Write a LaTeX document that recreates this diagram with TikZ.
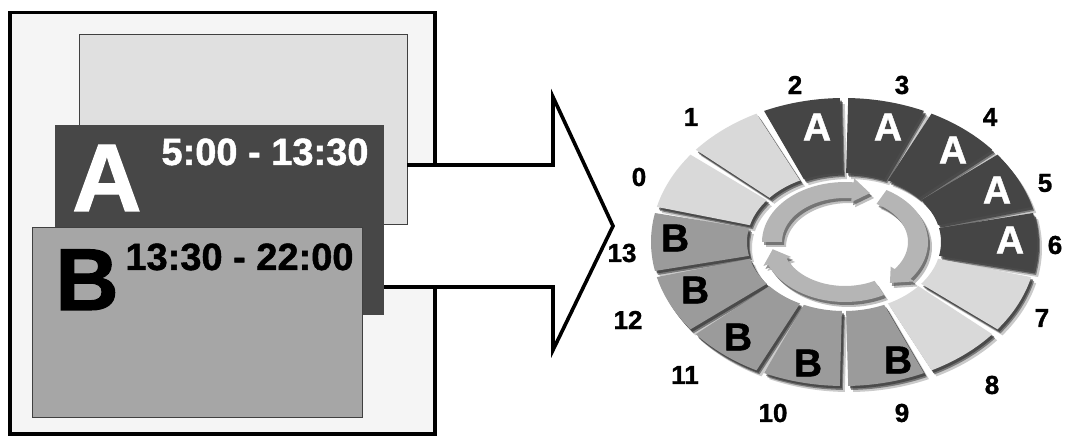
\documentclass[tikz,border=0pt]{standalone}
\usepackage{fontspec}
\setmainfont{Liberation Sans}[BoldFeatures={FakeBold=1.2}]
\definecolor{frameg}{HTML}{F5F5F5}
\definecolor{boxlight}{HTML}{E0E0E0}
\definecolor{boxdark}{HTML}{474747}
\definecolor{boxmid}{HTML}{A6A6A6}
\definecolor{segA}{HTML}{454545}
\definecolor{segB}{HTML}{9B9B9B}
\definecolor{segL}{HTML}{D9D9D9}
\definecolor{arrg}{HTML}{B5B5B5}
\definecolor{shad}{HTML}{2A2A2A}
\begin{document}
\begin{tikzpicture}[x=1pt,y=1pt,
  heavy/.style={line width=3.6pt,line join=miter},
  panel/.style={line width=0.9pt,draw=black!75},
  num/.style={font=\bfseries\fontsize{26}{26}\selectfont,inner sep=0pt},
  seglet/.style={font=\bfseries\fontsize{39}{39}\selectfont,inner sep=0pt},
  timetxt/.style={font=\bfseries\fontsize{38}{38}\selectfont,inner sep=0pt,anchor=base},
  biglet/.style={font=\bfseries\fontsize{96}{96}\selectfont,inner sep=0pt,anchor=base west}]
\useasboundingbox (0,0) rectangle (1072,437);
% ---------------- left part ----------------
\fill[frameg] (10,3) rectangle (435,424.5);
\fill[white] (384,272) -- (553,272) -- (553,340) -- (613,211) -- (553,87) -- (553,150) -- (384,150) -- cycle;
\filldraw[boxlight,panel] (79,213) rectangle (407,403);
\fill[boxdark] (55,122) rectangle (384,312);
\filldraw[boxmid,panel] (32,20) rectangle (362,210);
\draw[heavy] (435,272) -- (435,424.5) -- (10,424.5) -- (10,3) -- (435,3) -- (435,150);
\draw[heavy] (407,272) -- (553,272) -- (553,340) -- (613,211) -- (553,87) -- (553,150) -- (384,150);
\node[biglet,text=white] (bigA) at (72,226) {A};
\node[timetxt,text=white] (timeA) at (265,272) {5:00 - 13:30};
\node[biglet,text=black,font=\bfseries\fontsize{88}{88}\selectfont] (bigB) at (55,127) {B};
\node[timetxt,text=black] (timeB) at (239.5,167) {13:30 - 22:00};
% ---------------- ring ----------------
\foreach \sx/\sy/\op in {5/-6/0.25,3/-4/0.5,2/-2.5/0.6}{
 \foreach \k in {0,...,13}{
  \pgfmathsetmacro\segi{mod(\k+11,14)}
  \pgfmathsetmacro\segst{90-\segi*360/14-1.25}
  \pgfmathsetmacro\segen{90-(\segi+1)*360/14+1.25}
  \fill[shad,opacity=\op,shift={(\sx,\sy)}] plot[domain=\segst:\segen,samples=20] ({844+193*cos(\x)},{195+144*sin(\x)}) -- plot[domain=\segen:\segst,samples=20] ({844+97*cos(\x)},{195+69*sin(\x)}) -- cycle;
 }
}
\foreach \k/\c in {0/segL,1/segL,2/segA,3/segA,4/segA,5/segA,6/segA,7/segL,8/segL,9/segB,10/segB,11/segB,12/segB,13/segB}{
  \pgfmathsetmacro\segi{mod(\k+11,14)}
  \pgfmathsetmacro\segst{90-\segi*360/14-1.25}
  \pgfmathsetmacro\segen{90-(\segi+1)*360/14+1.25}
  \fill[\c] plot[domain=\segst:\segen,samples=20] ({844+193*cos(\x)},{195+144*sin(\x)}) -- plot[domain=\segen:\segst,samples=20] ({844+97*cos(\x)},{195+69*sin(\x)}) -- cycle;
}
% inner circular arrows
\foreach \sx/\sy/\op/\c in {4/-5/0.3/shad,2/-3/0.5/shad,0/0/1/arrg}{
 \foreach \as/\ae in {180/70,60/-52,-62/-172}{
  \pgfmathsetmacro\ah{\ae+14}
  \fill[\c,opacity=\op,shift={(\sx,\sy)}] plot[domain=\as:\ah,samples=24] ({845+83*cos(\x)},{195+60*sin(\x)})
    -- ({845+88*cos(\ah)},{195+64*sin(\ah)})
    -- ({845+73*cos(\ae)},{195+52*sin(\ae)})
    -- ({845+58*cos(\ah)},{195+40*sin(\ah)})
    -- plot[domain=\ah:\as,samples=24] ({845+63*cos(\x)},{195+44*sin(\x)}) -- cycle;
 }
}
% segment letters
\node[seglet,text=white] (A2) at (817,310) {A};
\node[seglet,text=white] (A3) at (888,310) {A};
\node[seglet,text=white] (A4) at (953,287) {A};
\node[seglet,text=white] (A5) at (997,247) {A};
\node[seglet,text=white] (A6) at (1010,197) {A};
\node[seglet] (B13) at (675,199) {B};
\node[seglet] (B12) at (695,147) {B};
\node[seglet] (B11) at (738,100) {B};
\node[seglet] (B10) at (808,74) {B};
\node[seglet] (B9) at (898,77) {B};
% numbers
\node[num] (n0) at (639,260) {0};
\node[num] (n1) at (691,320) {1};
\node[num] (n2) at (795,352) {2};
\node[num] (n3) at (902,352) {3};
\node[num] (n4) at (990,320) {4};
\node[num] (n5) at (1045,254) {5};
\node[num] (n6) at (1055,192) {6};
\node[num] (n7) at (1042,119) {7};
\node[num] (n8) at (992,52) {8};
\node[num] (n9) at (902,24) {9};
\node[num] (n10) at (773,24) {10};
\node[num] (n11) at (685,62) {11};
\node[num] (n12) at (628,117) {12};
\node[num] (n13) at (622,184) {13};
\end{tikzpicture}
\end{document}
